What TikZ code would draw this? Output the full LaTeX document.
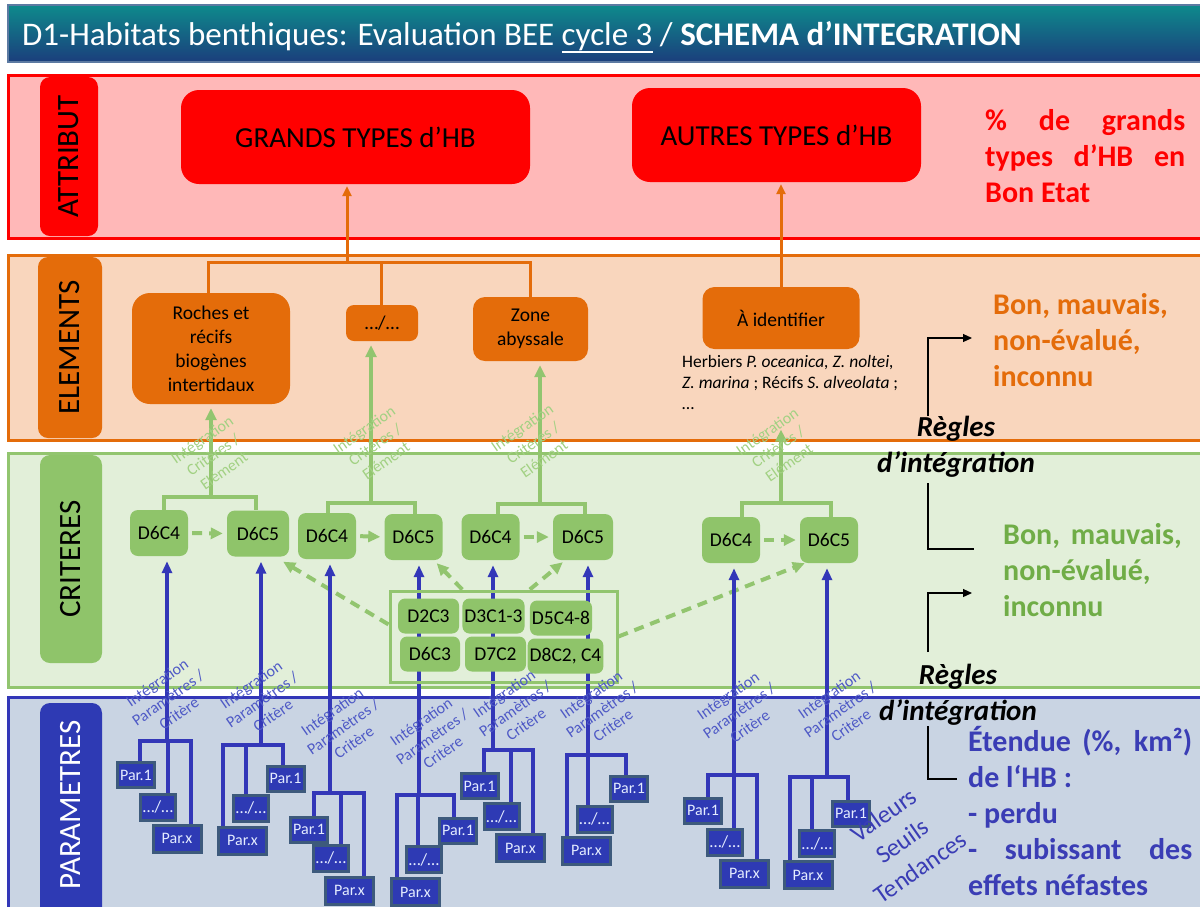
\documentclass[tikz,border=0pt]{standalone}
\usepackage{fontspec}
\setmainfont{Carlito}
\usepackage{tikz}
\usetikzlibrary{calc, positioning, arrows.meta}

\pgfdeclarelayer{bands}
\pgfdeclarelayer{links}
\pgfsetlayers{bands,links,main}

\definecolor{titletop}{HTML}{0E8A8C}
\definecolor{titlebot}{HTML}{1B3E7C}
\definecolor{titleedge}{HTML}{5C7AA2}
\definecolor{attrfill}{HTML}{FFB8B8}
\definecolor{attrred}{HTML}{FF0000}
\definecolor{elemfill}{HTML}{F9D6BD}
\definecolor{elemorange}{HTML}{E46C0A}
\definecolor{critfill}{HTML}{E2EFD9}
\definecolor{critgreen}{HTML}{92C56F}
\definecolor{critbox}{HTML}{8FC46A}
\definecolor{critlabel}{HTML}{A2D183}
\definecolor{paramfill}{HTML}{C9D4E3}
\definecolor{paramblue}{HTML}{3337B8}
\definecolor{parbox}{HTML}{2E3AB4}
\definecolor{paredge}{HTML}{3D5A7C}
\definecolor{partext}{HTML}{E4ECFF}
\definecolor{paramlabel}{HTML}{4F5AC6}
\definecolor{textgreen}{HTML}{70AD47}
\definecolor{textblue}{HTML}{3A3DB5}

\newcommand{\souligne}[1]{\leavevmode\vtop{\hbox{#1}\kern1pt\hrule height 1.5pt}}

\tikzset{
  bandframe/.style={line width=3pt},
  bandtag/.style={rounded corners=10pt, rotate=90, inner sep=0pt, font=\fontsize{31}{36}\selectfont},
  redbox/.style={fill=attrred, rounded corners=18pt, font=\fontsize{29}{34}\selectfont},
  orgbox/.style={fill=elemorange, rounded corners=12pt, align=center, inner sep=2pt, font=\fontsize{19.5}{24}\selectfont},
  critnode/.style={fill=critbox, rounded corners=8pt, minimum width=58pt, minimum height=46pt, inner sep=2pt, font=\fontsize{19.5}{22}\selectfont},
  subnode/.style={fill=critbox, rounded corners=7pt, minimum height=35pt, inner sep=2pt, font=\fontsize{19.5}{22}\selectfont},
  parnode/.style={fill=parbox, draw=paredge, line width=3pt, text=partext, inner sep=1pt, font=\fontsize{16}{18}\selectfont},
  parone/.style={parnode, minimum width=37pt, minimum height=25pt},
  pardots/.style={parnode, minimum width=35pt, minimum height=26pt, font=\fontsize{17}{18}\selectfont},
  parx/.style={parnode, minimum width=48pt, minimum height=27pt},
  oline/.style={elemorange, line width=3pt},
  oarrow/.style={oline, -{Triangle[length=10pt,width=9pt]}, shorten >=2pt},
  gline/.style={critgreen, line width=4pt},
  garrow/.style={gline, -{Triangle[length=12pt,width=11pt]}, shorten >=4pt},
  gdash/.style={gline, -{Triangle[length=12pt,width=11pt]}, dash pattern=on 10pt off 7pt},
  pline/.style={paramblue, line width=3.5pt},
  parrow/.style={pline, -{Triangle[length=12pt,width=10pt]}, shorten >=5pt},
  blackrule/.style={black, line width=1.2pt},
  rulearrow/.style={blackrule, -{Triangle[length=9pt,width=8pt]}},
  plabel/.style={text=paramlabel, rotate=35, align=center, inner sep=0pt, font=\fontsize{16}{19}\selectfont},
  glabel/.style={text=critlabel, rotate=35, align=center, inner sep=0pt, font=\fontsize{16}{19}\selectfont},
  sidetext/.style={anchor=north west, align=left, inner sep=0pt, font=\fontsize{30}{36}\selectfont\bfseries},
  regles/.style={anchor=north, align=center, inner sep=0pt, font=\fontsize{29}{36}\selectfont\bfseries\itshape},
}

\begin{document}
\begin{tikzpicture}[x=1pt, y=-1pt]
\useasboundingbox (0,0) rectangle (1200,906);

\begin{pgfonlayer}{bands}
  \fill[white] (0,0) rectangle (1200,906);
  \shade[top color=titletop, bottom color=titlebot] (8,5) rectangle (1210,62);
  \draw[titleedge, line width=1.5pt] (8,5) rectangle (1210,62);
  \draw[bandframe, draw=attrred, fill=attrfill] (8,75) rectangle (1210,238);
  \draw[bandframe, draw=elemorange, fill=elemfill] (8,255) rectangle (1210,440);
  \draw[bandframe, draw=critgreen, fill=critfill] (8,453) rectangle (1210,687);
  \draw[bandframe, draw=paramblue, fill=paramfill] (8,697) rectangle (1210,930);
  \fill[parbox, rounded corners=10pt] (40,703) rectangle (102,940);
\end{pgfonlayer}

\node[anchor=base west, inner sep=0pt, text=white, font=\fontsize{33}{40}\selectfont] (title) at (22,45)
  {D1-Habitats benthiques: Evaluation BEE \souligne{cycle 3} / \textbf{SCHEMA d’INTEGRATION}};

% bandes
\node[bandtag, fill=attrred, minimum width=159pt, minimum height=58pt] (tagattr) at (69,156.5) {ATTRIBUT};
\node[bandtag, fill=elemorange, minimum width=181pt, minimum height=64pt] (tagelem) at (70,347.5) {ELEMENTS};
\node[bandtag, fill=critbox, minimum width=208pt, minimum height=62pt] (tagcrit) at (71,559) {CRITERES};
\node[bandtag, text=white] (tagparam) at (71,805) {PARAMETRES};

% attribut
\node[redbox, minimum width=349pt, minimum height=94pt] (grands) at (355.5,137) {GRANDS TYPES d’HB};
\node[redbox, minimum width=289pt, minimum height=94pt] (autres) at (776.5,135) {AUTRES TYPES d’HB};
\node[sidetext, text=attrred] (etatattr) at (985,105)
  {\rule{0pt}{25pt}\makebox[200pt][s]{\% de grands}\\\makebox[200pt][s]{types d’HB en}\\Bon Etat};

% elements
\node[orgbox, minimum width=158pt, minimum height=111pt, rounded corners=18pt] (roches) at (211,348.5) {Roches et\\récifs\\biogènes\\intertidaux};
\node[orgbox, minimum width=72pt, minimum height=36pt, rounded corners=8pt] (elmdots) at (382,323) {…/…};
\node[orgbox, minimum width=115pt, minimum height=64pt] (zone) at (530.5,329) {Zone\\abyssale};
\node[orgbox, minimum width=157pt, minimum height=62pt] (ident) at (781,318) {À identifier};
\node[anchor=north west, align=left, inner sep=0pt, font=\fontsize{17.5}{21}\selectfont] (herb) at (682,353)
  {\rule{0pt}{14pt}Herbiers \textit{P. oceanica, Z. noltei,}\\\textit{Z. marina} ; Récifs \textit{S. alveolata} ;\\…};
\node[sidetext, text=elemorange] (etatelem) at (993,289) {\rule{0pt}{25pt}Bon, mauvais,\\non-évalué,\\inconnu};

% criteres
\node[critnode] (g1c4) at (159,533) {D6C4};
\node[critnode, minimum width=62pt] (g1c5) at (258,533.5) {D6C5};
\node[critnode] (g2c4) at (327,536) {D6C4};
\node[critnode] (g2c5) at (413.5,537) {D6C5};
\node[critnode] (g3c4) at (490.5,537) {D6C4};
\node[critnode, minimum width=60pt] (g3c5) at (583,537) {D6C5};
\node[critnode] (g4c4) at (731,540) {D6C4};
\node[critnode] (g4c5) at (829,540) {D6C5};

\node[draw=critgreen, line width=3pt, minimum width=227pt, minimum height=91pt] (grp) at (503.5,636.5) {};
\node[subnode, minimum width=61pt] (d2) at (428.5,616) {D2C3};
\node[subnode, minimum width=61pt] (d3) at (493.5,616) {D3C1-3};
\node[subnode, minimum width=60pt] (d5) at (561,618) {D5C4-8};
\node[subnode, minimum width=60pt] (d6) at (430,654) {D6C3};
\node[subnode, minimum width=61pt] (d7) at (495.5,654) {D7C2};
\node[subnode, minimum width=73pt] (d8) at (565.5,656) {D8C2, C4};

\node[sidetext, text=textgreen] (etatcrit) at (1003,519) {\rule{0pt}{25pt}Bon,\hspace{4pt} mauvais,\\non-évalué,\\inconnu};

\node[regles] (regles1) at (956,416) {Règles\\d’intégration};
\node[regles] (regles2) at (958,664) {Règles\\d’intégration};

% parametres
\node[parone] (t1a) at (136,775) {Par.1};
\node[pardots] (t1b) at (158,807) {…/…};
\node[parx] (t1c) at (177,838.5) {Par.x};
\node[parx] (t2a) at (242.5,840.5) {Par.x};
\node[pardots] (t2b) at (251,808) {…/…};
\node[parone] (t2c) at (285.5,778.5) {Par.1};
\node[parone] (t3a) at (309,829.5) {Par.1};
\node[pardots] (t3b) at (331,858) {…/…};
\node[parx] (t3c) at (349.5,890.5) {Par.x};
\node[parx] (t4a) at (415.5,892) {Par.x};
\node[pardots] (t4b) at (424,859.5) {…/…};
\node[parone] (t4c) at (458,830.5) {Par.1};
\node[parone] (t5a) at (479.5,786) {Par.1};
\node[pardots] (t5b) at (501.5,816.5) {…/…};
\node[parx] (t5c) at (520.5,848) {Par.x};
\node[parx] (t6a) at (586.5,850.5) {Par.x};
\node[pardots] (t6b) at (594.5,819) {…/…};
\node[parone] (t6c) at (629,788.5) {Par.1};
\node[parone] (t7a) at (703,810.5) {Par.1};
\node[pardots] (t7b) at (725,842) {…/…};
\node[parx] (t7c) at (744.5,873.5) {Par.x};
\node[parx] (t8a) at (808,875) {Par.x};
\node[pardots] (t8b) at (817,843.5) {…/…};
\node[parone] (t8c) at (851,813.5) {Par.1};

\node[plabel] (lab1) at (168,698) {Intégration\\Paramètres /\\Critère};
\node[plabel] (lab2) at (262,700) {Intégration\\Paramètres /\\Critère};
\node[plabel] (lab3) at (343,727) {Intégration\\Paramètres /\\Critère};
\node[plabel] (lab4) at (432,737) {Intégration\\Paramètres /\\Critère};
\node[plabel] (lab5) at (515,709) {Intégration\\Paramètres /\\Critère};
\node[plabel] (lab6) at (602,710) {Intégration\\Paramètres /\\Critère};
\node[plabel] (lab7) at (739,711) {Intégration\\Paramètres /\\Critère};
\node[plabel] (lab8) at (840,710) {Intégration\\Paramètres /\\Critère};

\node[glabel] (glab1) at (213,455) {Intégration\\Critères /\\Elément};
\node[glabel] (glab2) at (375,445) {Intégration\\Critères /\\Elément};
\node[glabel] (glab3) at (533,443) {Intégration\\Critères /\\Elément};
\node[glabel] (glab4) at (778,447) {Intégration\\Critères /\\Elément};

\node[text=textblue, rotate=35, align=center, inner sep=0pt, font=\fontsize{25}{32}\selectfont] (seuils) at (902,841) {Valeurs\\Seuils\\Tendances};
\node[sidetext, text=textblue] (etendue) at (968,726)
  {\rule{0pt}{25pt}\makebox[224pt][s]{Étendue (\%, km²)}\\de l‘HB :\\- perdu\\\makebox[224pt][s]{- subissant des}\\effets néfastes};

% liens
\coordinate (ol) at (208,262); \coordinate (or) at (530,262);
\coordinate (ov) at (347,262); \coordinate (om) at (381,262);
\coordinate (g1l) at (164,497); \coordinate (g1r) at (256,497); \coordinate (g1v) at (211,497);
\coordinate (g2l) at (328,503); \coordinate (g2r) at (415,503); \coordinate (g2v) at (371,503);
\coordinate (g3l) at (498,504); \coordinate (g3r) at (585,504); \coordinate (g3v) at (540,504);
\coordinate (g4l) at (742,503); \coordinate (g4r) at (831,503); \coordinate (g4v) at (781,503);

\coordinate (t1l) at (140,741); \coordinate (t1r) at (191,741); \coordinate (t1v) at (167,741); \coordinate (t1d) at (168,741);
\coordinate (t2l) at (223,745); \coordinate (t2r) at (283,745); \coordinate (t2v) at (261,745); \coordinate (t2d) at (246,745);
\coordinate (t3l) at (314,793); \coordinate (t3r) at (364,793); \coordinate (t3v) at (330,793); \coordinate (t3d) at (341,793);
\coordinate (t4l) at (397,795); \coordinate (t4r) at (454,795); \coordinate (t4v) at (419,795); \coordinate (t4d) at (418,795);
\coordinate (t5l) at (484,750); \coordinate (t5r) at (533,750); \coordinate (t5v) at (493,750); \coordinate (t5d) at (511,750);
\coordinate (t6l) at (567,755); \coordinate (t6r) at (626,755); \coordinate (t6v) at (588,755); \coordinate (t6d) at (588,755);
\coordinate (t7l) at (708,775); \coordinate (t7r) at (757,775); \coordinate (t7v) at (734,775); \coordinate (t7d) at (734,775);
\coordinate (t8l) at (790,777); \coordinate (t8r) at (848,777); \coordinate (t8v) at (827,777); \coordinate (t8d) at (812,777);

\coordinate (r1a) at (928,416); \coordinate (r1b) at (972,338);
\coordinate (r2a) at (928,483); \coordinate (r2b) at (974,549);
\coordinate (r3a) at (928,652); \coordinate (r3b) at (972,593);
\coordinate (r4a) at (928,726); \coordinate (r4b) at (957,779);

\begin{pgfonlayer}{links}
  \draw[oline] (roches.north -| ol) -- (ol) -- (or) -- (zone.north -| or);
  \draw[oline] (om) -- (elmdots.north -| om);
  \draw[oarrow] (ov) -- (grands.south -| ov);
  \draw[oarrow] (ident.north) -- (ident.north |- autres.south);

  \draw[gline] (g1c4.north -| g1l) -- (g1l) -- (g1r) -- (g1c5.north -| g1r);
  \draw[gline] (g2c4.north -| g2l) -- (g2l) -- (g2r) -- (g2c5.north -| g2r);
  \draw[gline] (g3c4.north -| g3l) -- (g3l) -- (g3r) -- (g3c5.north -| g3r);
  \draw[gline] (g4c4.north -| g4l) -- (g4l) -- (g4r) -- (g4c5.north -| g4r);
  \draw[garrow] (g1v) -- (roches.south -| g1v);
  \draw[garrow] (g2v) -- (elmdots.south -| g2v);
  \draw[garrow] (g3v) -- (zone.south -| g3v);
  \draw[garrow] (g4v) -- (herb.south -| g4v) [shorten >=20pt];

  \draw[gdash, shorten <=4pt, shorten >=4pt] (g1c4.east) -- (g1c5.west);
  \draw[gdash, shorten <=4pt, shorten >=4pt] (g2c4.east) -- (g2c5.west);
  \draw[gdash, shorten <=4pt, shorten >=4pt] (g3c4.east) -- (g3c5.west);
  \draw[gdash, shorten <=4pt, shorten >=4pt] (g4c4.east) -- (g4c5.west);
  \draw[gdash] (grp.174) -- ($(g1c5.south east)+(-6,5)$);
  \draw[gdash] (grp.north -| d3.west) -- ($(g2c5.south east)+(-6,3)$);
  \draw[gdash] (grp.north -| d5.west) -- ($(g3c5.south west)+(10,2)$);
  \draw[gdash] (grp.east) -- ($(g4c5.south west)+(5,0)$);

  \draw[pline] (t1a.north -| t1l) -- (t1l) -- (t1r) -- (t1c.north -| t1r);
  \draw[pline] (t1d) -- (t1b.north -| t1d);
  \draw[parrow] (t1v) -- (g1c4.south -| t1v);
  \draw[pline] (t2a.north -| t2l) -- (t2l) -- (t2r) -- (t2c.north -| t2r);
  \draw[pline] (t2d) -- (t2b.north -| t2d);
  \draw[parrow] (t2v) -- (g1c5.south -| t2v);
  \draw[pline] (t3a.north -| t3l) -- (t3l) -- (t3r) -- (t3c.north -| t3r);
  \draw[pline] (t3d) -- (t3b.north -| t3d);
  \draw[parrow] (t3v) -- (g2c4.south -| t3v);
  \draw[pline] (t4a.north -| t4l) -- (t4l) -- (t4r) -- (t4c.north -| t4r);
  \draw[pline] (t4d) -- (t4b.north -| t4d);
  \draw[parrow] (t4v) -- (g2c5.south -| t4v);
  \draw[pline] (t5a.north -| t5l) -- (t5l) -- (t5r) -- (t5c.north -| t5r);
  \draw[pline] (t5d) -- (t5b.north -| t5d);
  \draw[parrow] (t5v) -- (g3c4.south -| t5v);
  \draw[pline] (t6a.north -| t6l) -- (t6l) -- (t6r) -- (t6c.north -| t6r);
  \draw[pline] (t6d) -- (t6b.north -| t6d);
  \draw[parrow] (t6v) -- (g3c5.south -| t6v);
  \draw[pline] (t7a.north -| t7l) -- (t7l) -- (t7r) -- (t7c.north -| t7r);
  \draw[pline] (t7d) -- (t7b.north -| t7d);
  \draw[parrow] (t7v) -- (g4c4.south -| t7v);
  \draw[pline] (t8a.north -| t8l) -- (t8l) -- (t8r) -- (t8c.north -| t8r);
  \draw[pline] (t8d) -- (t8b.north -| t8d);
  \draw[parrow] (t8v) -- (g4c5.south -| t8v);

  \draw[rulearrow] (r1a) |- (r1b);
  \draw[blackrule] (r2a) |- (r2b);
  \draw[rulearrow] (r3a) |- (r3b);
  \draw[blackrule] (r4a) |- (r4b);
\end{pgfonlayer}
\end{tikzpicture}
\end{document}
